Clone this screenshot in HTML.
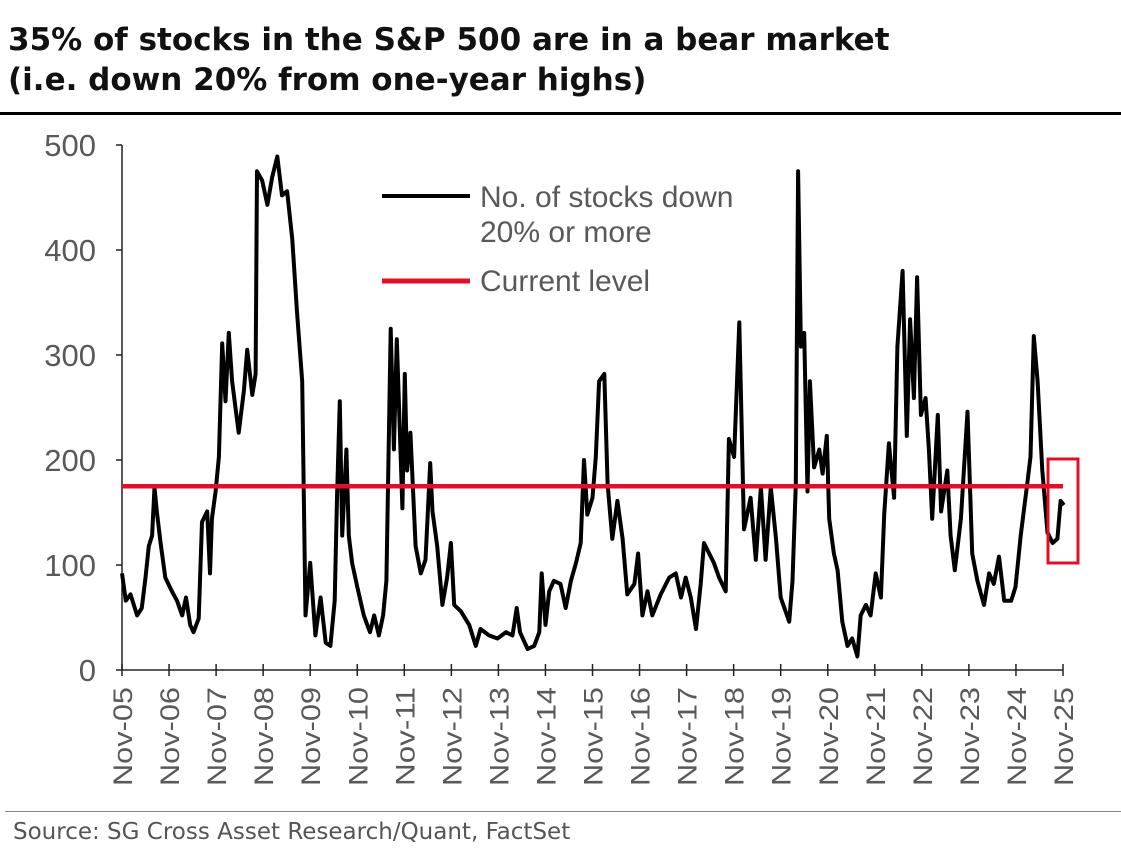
<!DOCTYPE html>
<html><head><meta charset="utf-8"><style>
html,body{margin:0;padding:0;background:#fff;}
body{width:1121px;height:867px;overflow:hidden;position:relative;font-family:"Liberation Sans",sans-serif;}
.title{position:absolute;left:8px;top:20px;font-family:"DejaVu Sans",sans-serif;font-weight:bold;font-size:31px;line-height:40px;color:#111;white-space:nowrap;}
</style></head><body>
<div class="title">35% of stocks in the S&amp;P 500 are in a bear market<br>(i.e. down 20% from one-year highs)</div>
<div style="position:absolute;left:0;top:112px;width:1121px;height:3px;background:#000"></div>
<svg id="chart" width="1121" height="867" style="position:absolute;left:0;top:0"></svg>
<div style="position:absolute;left:5px;top:811px;width:1116px;height:1px;background:#888"></div>
<div style="position:absolute;left:13px;top:819px;font-family:'DejaVu Sans',sans-serif;font-size:23px;color:#555;white-space:nowrap">Source: SG Cross Asset Research/Quant, FactSet</div>
<script>
const yTicks=[0,100,200,300,400,500];
const xLabels=["Nov-05","Nov-06","Nov-07","Nov-08","Nov-09","Nov-10","Nov-11","Nov-12","Nov-13","Nov-14","Nov-15","Nov-16","Nov-17","Nov-18","Nov-19","Nov-20","Nov-21","Nov-22","Nov-23","Nov-24","Nov-25"];
const currentLevel=175;
const times=[0,0.08,0.18,0.32,0.42,0.5,0.57,0.64,0.69,0.74,0.82,0.92,1.06,1.17,1.28,1.36,1.45,1.52,1.63,1.70,1.81,1.87,1.91,1.99,2.06,2.13,2.2,2.27,2.34,2.48,2.59,2.66,2.77,2.84,2.87,2.98,3.09,3.19,3.30,3.40,3.51,3.62,3.72,3.83,3.90,4.0,4.11,4.22,4.33,4.43,4.52,4.57,4.63,4.68,4.77,4.82,4.89,5.0,5.14,5.27,5.36,5.46,5.55,5.62,5.71,5.78,5.84,5.91,5.96,6.01,6.06,6.13,6.24,6.35,6.45,6.55,6.6,6.7,6.81,6.91,6.99,7.06,7.20,7.38,7.52,7.62,7.8,7.98,8.16,8.30,8.39,8.46,8.62,8.76,8.87,8.92,9.0,9.08,9.18,9.32,9.43,9.54,9.65,9.75,9.82,9.89,10.0,10.07,10.14,10.25,10.32,10.42,10.53,10.64,10.74,10.89,10.97,11.06,11.17,11.27,11.45,11.63,11.77,11.88,11.98,12.09,12.2,12.30,12.37,12.48,12.58,12.69,12.83,12.9,13.01,13.12,13.22,13.36,13.47,13.58,13.68,13.79,13.9,14.0,14.18,14.25,14.32,14.37,14.43,14.50,14.57,14.62,14.71,14.82,14.89,14.98,15.03,15.13,15.21,15.31,15.42,15.52,15.63,15.70,15.81,15.91,16.02,16.13,16.20,16.30,16.41,16.48,16.59,16.68,16.75,16.83,16.90,16.98,17.08,17.15,17.22,17.34,17.41,17.54,17.61,17.70,17.83,17.97,18.07,18.18,18.32,18.43,18.53,18.64,18.75,18.9,18.99,19.10,19.24,19.31,19.38,19.46,19.56,19.67,19.78,19.88,19.95,20.02];
const values=[92,66,72,52,59,88,118,128,174,151,121,88,75,66,52,69,43,36,49,141,151,92,144,170,203,311,256,321,275,226,266,305,262,282,475,466,443,469,489,452,456,410,341,275,52,102,33,69,26,23,66,164,256,128,210,128,102,79,52,36,52,33,52,85,325,210,315,220,154,282,190,226,118,92,105,197,151,118,62,88,121,62,56,43,23,39,33,30,36,33,59,36,20,23,36,92,43,75,85,82,59,85,102,121,200,148,164,203,275,282,177,125,161,125,72,82,111,52,75,52,72,88,92,69,88,69,39,82,121,111,102,88,75,220,203,331,134,164,105,174,105,174,125,69,46,85,177,475,308,321,170,275,193,210,187,223,144,111,95,46,23,30,13,52,62,52,92,69,148,216,164,308,380,223,334,259,374,243,259,210,144,243,151,190,128,95,144,246,111,85,62,92,82,108,66,66,79,128,177,203,318,275,190,131,121,125,161,157];
const NS="http://www.w3.org/2000/svg";
const svg=document.getElementById('chart');
const X0=122,PX_PER_YEAR=47.05,Y0=670,PX_PER_UNIT=1.05;
function xs(t){return X0+t*PX_PER_YEAR;}
function ys(v){return Y0-v*PX_PER_UNIT;}
function mk(tag,attrs){const e=document.createElementNS(NS,tag);for(const k in attrs)e.setAttribute(k,attrs[k]);svg.appendChild(e);return e;}
let ya=mk('line',{x1:xs(0),x2:xs(0),y1:ys(500),y2:ys(0),stroke:'#222','stroke-width':1.5});


let xa=mk('line',{x1:xs(0),x2:xs(20),y1:ys(0),y2:ys(0),stroke:'#222','stroke-width':1.5});


yTicks.forEach(v=>{
  let t=mk('line',{x1:xs(0)-6,x2:xs(0),y1:ys(v),y2:ys(v),stroke:'#222','stroke-width':1.5});
  
  
  let l=mk('text',{x:96,y:ys(v)+11,'text-anchor':'end','font-size':31,fill:'#595959','font-family':'Liberation Sans, sans-serif'});
  l.textContent=v;
  
  
});
xLabels.forEach((s,i)=>{
  let t=mk('line',{x1:xs(i),x2:xs(i),y1:ys(0)-6,y2:ys(0)+6,stroke:'#222','stroke-width':1.5});
  
  
  let l=mk('text',{x:0,y:0,'text-anchor':'end','font-size':27,fill:'#595959','font-family':'Liberation Sans, sans-serif',textLength:99,lengthAdjust:'spacingAndGlyphs',transform:`translate(${xs(i)+10},${ys(0)+17}) rotate(-90)`});
  l.textContent=s;
  
  
});
let d=times.map((t,i)=>(i?'L':'M')+xs(t).toFixed(1)+' '+ys(values[i]).toFixed(1)).join(' ');
let p=mk('path',{d:d,fill:'none',stroke:'#000','stroke-width':4,'stroke-linejoin':'round'});


let r=mk('line',{x1:xs(0),x2:xs(20),y1:ys(currentLevel),y2:ys(currentLevel),stroke:'#e0102a','stroke-width':4.5});


let box=mk('rect',{x:1048,y:459,width:30,height:104,fill:'none',stroke:'#e0102a','stroke-width':3});


let l1=mk('line',{x1:382,x2:470,y1:196,y2:196,stroke:'#000','stroke-width':4});


[['No. of stocks down',207],['20% or more',242]].forEach(([s,y])=>{
  let t=mk('text',{x:480,y:y,'font-size':30,fill:'#595959','font-family':'Liberation Sans, sans-serif'});
  t.textContent=s;
  
  
});
let l2=mk('line',{x1:382,x2:470,y1:281,y2:281,stroke:'#e0102a','stroke-width':5});


let t2=mk('text',{x:480,y:291,'font-size':30,fill:'#595959','font-family':'Liberation Sans, sans-serif'});
t2.textContent='Current level';


</script>
</body></html>
